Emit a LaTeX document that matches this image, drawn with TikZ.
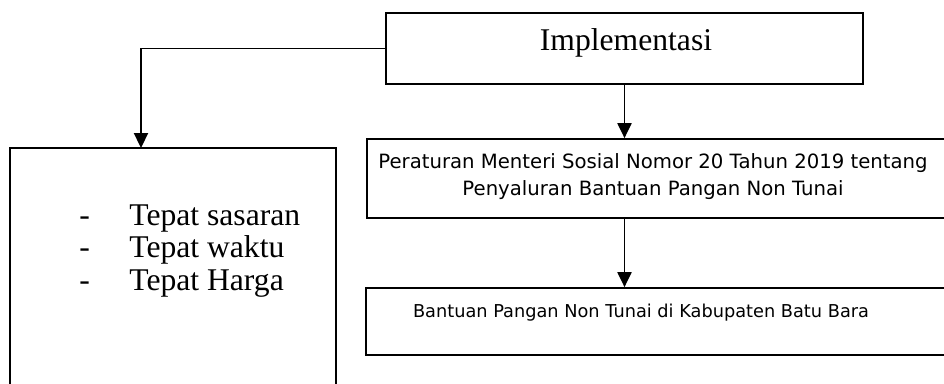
\documentclass[tikz,border=0pt]{standalone}
\usepackage{fontspec}
\setmainfont{Liberation Serif}
\newfontfamily\kotakfont{DejaVu Sans}
\usetikzlibrary{arrows.meta,fit}

\tikzset{
  kotak/.style={draw, line width=1pt, inner sep=0pt},
  panah/.style={line width=1pt, -{Triangle[width=8pt,length=8.5pt]}},
  isi/.style={font=\kotakfont\fontsize{11.2}{15.4}\selectfont, align=center, inner sep=0pt},
  besar/.style={font=\fontsize{18}{18.7}\selectfont}
}
\newcommand{\strip}{\makebox[28.5pt][l]{-}}

\begin{document}
\begin{tikzpicture}[x=0.02cm, y=-0.02cm]
	%%%%% START %%%%%
	\useasboundingbox (0,0) rectangle (944,383);
	
	\node[kotak, besar, fit={(386,13) (863,84)}] (impl) {};
	\node[besar, inner sep=0pt] (impl-teks) at (626,43) {Implementasi};
	
	\node[kotak, fit={(10,148) (336,420)}] (tepat) {};
	\node[besar, align=left, anchor=west, inner sep=0pt] (daftar) at (79,251)
		{\strip Tepat sasaran\\\strip Tepat waktu\\\strip Tepat Harga};
	
	\node[kotak, fit={(367,139) (960,218)}] (permen) {};
	\node[isi] (permen-teks) at (653,177)
		{Peraturan Menteri Sosial Nomor 20 Tahun 2019 tentang\\Penyaluran Bantuan Pangan Non Tunai};
	
	\node[kotak, fit={(366,288) (960,355)}] (bpnt) {};
	\node[isi, font=\kotakfont\fontsize{10.1}{13}\selectfont] (bpnt-teks) at (641,313)
		{Bantuan Pangan Non Tunai di Kabupaten Batu Bara};
	
	% panah
	\coordinate (belok) at (141,148);
	\draw[panah] (impl.west) -| (belok);
	\draw[panah] (impl.south) -- (impl.south |- permen.north);
	\draw[panah] (impl.south |- permen.south) -- (impl.south |- bpnt.north);
	
	%%%%% END %%%%%
\end{tikzpicture}
\end{document}
